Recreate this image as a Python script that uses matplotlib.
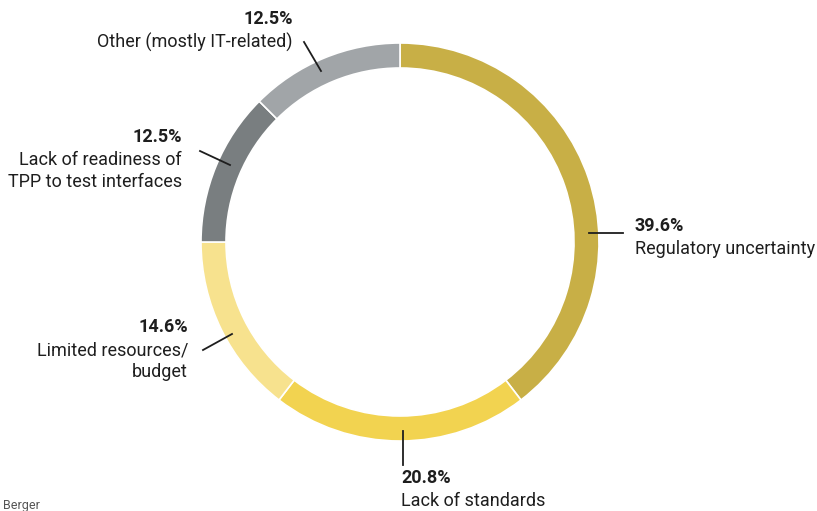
import matplotlib
matplotlib.use("Agg")
import matplotlib.pyplot as plt

# data, clockwise from the top
labels = ["Regulatory uncertainty", "Lack of standards", "Limited resources/\nbudget",
          "Lack of readiness of\nTPP to test interfaces", "Other (mostly IT-related)"]
shares = [39.6, 20.8, 14.6, 12.5, 12.5]
colors = ["#C8AF46", "#F2D350", "#F7E28E", "#797E80", "#A1A5A8"]

W, H = 817, 511
plt.rcParams['font.family'] = ['Roboto', 'DejaVu Sans']

fig = plt.figure(figsize=(W / 100, H / 100), dpi=100)
ax = fig.add_axes([0, 0, 1, 1])

def Y(py):
    # pixel row -> data y
    return H - py

ax.pie(shares, colors=colors, startangle=90, counterclock=False,
       center=(400, Y(242)), radius=199,
       wedgeprops=dict(width=25, edgecolor="white", linewidth=1.2))

# label layout: (leader line x0, y0, x1, y1), text anchor x, text top y, alignment
layout = [
    ((589, 233, 623, 233), 635, 226, "left"),
    ((403, 431, 403, 465), 401, 478, "left"),
    ((232, 334, 203, 350), 188, 327, "right"),
    ((230, 165, 200, 151), 182, 137, "right"),
    ((321, 71, 304, 42), 293, 19, "right"),
]
ink = "#1e1e1e"
for lab, val, (ln, tx, ty, ha) in zip(labels, shares, layout):
    ax.plot([ln[0], ln[2]], [Y(ln[1]), Y(ln[3])], color=ink, lw=1.3)
    ax.text(tx, Y(ty), f"{val:.1f}%", ha=ha, va="center", fontsize=13,
            fontweight="bold", color=ink)
    ax.text(tx, Y(ty + 14), lab, ha=ha, va="top", fontsize=13, color=ink,
            linespacing=1.32)

ax.text(3, Y(505), "Berger", ha="left", va="center", fontsize=9, color="#555555")

ax.set_xlim(0, W)
ax.set_ylim(0, H)
ax.set_aspect("auto")
ax.axis("off")
fig.savefig("out.png", dpi=100, facecolor="white")
